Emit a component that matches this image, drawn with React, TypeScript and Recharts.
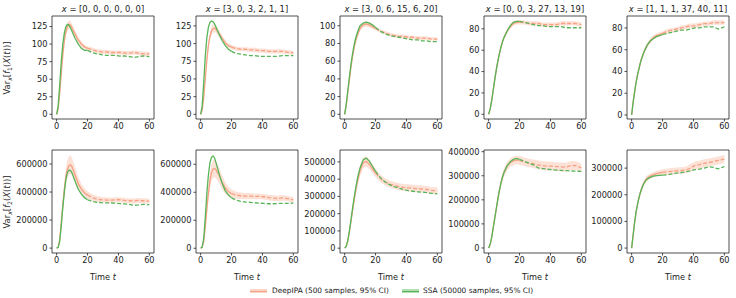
import { ComposedChart, Area, Line, XAxis, YAxis, ReferenceArea } from 'recharts';

// sample times (shared by every panel)
const TIMES = [0, 1, 2, 3, 4, 5, 6, 7, 8, 9, 10, 12, 14, 16, 18, 20, 23, 26, 29, 32, 35, 38, 41, 44, 47, 50, 53, 56, 60];
const SPLIT_T = 20; // solid up to here, dashed after

const TITLES = ['[0, 0, 0, 0, 0, 0]', '[3, 0, 3, 2, 1, 1]', '[3, 0, 6, 15, 6, 20]', '[0, 0, 3, 27, 13, 19]', '[1, 1, 1, 37, 40, 11]'];
const X_TICKS = [0, 20, 40, 60];

// Var[f1] — DeepIPA mean, CI half width, SSA mean
const DEEP_F1 = [
  [0, 8, 30, 58, 85, 105, 118, 125, 128, 127, 123, 114, 106, 100, 96, 94, 92, 90, 89, 89, 88, 88, 88, 87, 87, 88, 87, 86, 86],
  [0, 6, 24, 50, 76, 97, 110, 118, 121, 122, 120, 114, 107, 101, 97, 95, 93, 92, 92, 91, 91, 90, 90, 89, 89, 89, 89, 88, 87],
  [0, 10, 24, 38, 52, 64, 74, 82, 88, 93, 97, 101, 102, 101, 99, 97, 94, 92, 90, 89, 88, 88, 87, 87, 86, 86, 86, 85, 85],
  [0, 5, 13, 23, 33, 42, 50, 57, 63, 68, 72, 78, 82, 85, 86, 86, 86, 85, 85, 85, 84, 84, 84, 84, 85, 85, 85, 85, 84],
  [0, 12, 22, 31, 38, 44, 50, 54, 58, 61, 64, 68, 71, 73, 74, 75, 77, 78, 79, 80, 81, 82, 82, 83, 84, 84, 85, 85, 85],
];
const DEEP_F1_CI = [
  [0, 1, 2, 3, 4, 5, 5, 6, 6, 6, 5, 5, 4, 4, 3, 3, 3, 3, 3, 3, 3, 3, 3, 3, 3, 3, 3, 3, 3],
  [0, 1, 2, 3, 4, 5, 5, 6, 6, 6, 5, 5, 4, 4, 3, 3, 3, 3, 3, 3, 3, 3, 3, 3, 3, 3, 3, 3, 3],
  [0, 1, 1, 2, 2, 2, 3, 3, 3, 3, 3, 3, 3, 3, 3, 2, 2, 2, 2, 2, 2, 2, 2, 2, 2, 2, 2, 2, 2],
  [0, 1, 1, 1, 1, 2, 2, 2, 2, 2, 2, 2, 2, 2, 2, 2, 2, 2, 2, 2, 2, 2, 2, 2, 2, 2, 2, 2, 2],
  [0, 1, 1, 1, 1, 2, 2, 2, 2, 2, 2, 2, 2, 2, 2, 2, 2, 2, 2, 2, 2, 2, 2, 2, 2, 2, 2, 2, 2],
];
const SSA_F1 = [
  [0, 12, 42, 75, 100, 116, 125, 128, 127, 123, 118, 108, 100, 94, 91, 91, 88, 86, 85, 84, 84, 84, 83, 83, 82, 81, 82, 83, 82],
  [0, 12, 45, 82, 108, 123, 130, 132, 131, 128, 123, 113, 104, 97, 92, 89, 86, 85, 84, 83, 83, 82, 82, 82, 82, 82, 83, 83, 83],
  [0, 11, 26, 41, 55, 67, 77, 85, 91, 96, 100, 103, 104, 103, 101, 98, 94, 91, 89, 88, 87, 86, 85, 84, 84, 83, 83, 82, 82],
  [0, 5, 13, 23, 33, 42, 50, 57, 63, 68, 72, 78, 83, 86, 87, 87, 86, 85, 84, 83, 83, 82, 82, 82, 82, 81, 81, 81, 81],
  [0, 12, 22, 31, 38, 44, 50, 54, 58, 61, 64, 68, 70, 72, 73, 74, 75, 76, 77, 78, 78, 79, 80, 80, 81, 81, 81, 79, 81],
];
const F1_DOMAINS = [[-6.7, 140], [-6.6, 139], [-5.3, 111], [-4.4, 92], [-3.7, 91]];
const F1_TICKS = [
  [0, 25, 50, 75, 100, 125],
  [0, 25, 50, 75, 100, 125],
  [0, 20, 40, 60, 80, 100],
  [0, 20, 40, 60, 80],
  [0, 20, 40, 60, 80],
];

// Var[f2]
const DEEP_F2 = [
  [0, 5e3, 60e3, 180e3, 310e3, 420e3, 510e3, 565e3, 590e3, 595e3, 580e3, 520e3, 460e3, 420e3, 395e3, 378e3, 360e3, 350e3, 345e3, 343e3, 342e3, 345e3, 345e3, 340e3, 338e3, 336e3, 340e3, 338e3, 335e3],
  [0, 8e3, 50e3, 150e3, 280e3, 390e3, 480e3, 540e3, 565e3, 570e3, 560e3, 520e3, 470e3, 430e3, 405e3, 390e3, 380e3, 375e3, 372e3, 372e3, 370e3, 370e3, 368e3, 362e3, 358e3, 355e3, 360e3, 355e3, 345e3],
  [0, 10e3, 40e3, 90e3, 150e3, 210e3, 270e3, 325e3, 375e3, 415e3, 450e3, 495e3, 503e3, 485e3, 460e3, 435e3, 405e3, 385e3, 372e3, 365e3, 357e3, 352e3, 350e3, 347e3, 345e3, 343e3, 340e3, 335e3, 332e3],
  [0, 15e3, 45e3, 85e3, 125e3, 165e3, 205e3, 240e3, 270e3, 295e3, 315e3, 340e3, 355e3, 362e3, 366e3, 364e3, 358e3, 353e3, 350e3, 345e3, 342e3, 340e3, 340e3, 338e3, 337e3, 336e3, 342e3, 343e3, 333e3],
  [0, 50e3, 100e3, 140e3, 170e3, 195e3, 215e3, 232e3, 245e3, 255e3, 262e3, 270e3, 275e3, 279e3, 282e3, 284e3, 286e3, 288e3, 290e3, 291e3, 293e3, 300e3, 310e3, 313e3, 318e3, 321e3, 325e3, 329e3, 334e3],
];
const DEEP_F2_CI = [
  [0, 2e3, 10e3, 25e3, 40e3, 50e3, 58e3, 63e3, 65e3, 65e3, 62e3, 55e3, 45e3, 38e3, 32e3, 28e3, 24e3, 22e3, 20e3, 20e3, 18e3, 18e3, 18e3, 18e3, 18e3, 18e3, 18e3, 18e3, 18e3],
  [0, 2e3, 10e3, 25e3, 40e3, 50e3, 58e3, 62e3, 63e3, 63e3, 60e3, 55e3, 48e3, 40e3, 34e3, 30e3, 26e3, 24e3, 22e3, 22e3, 20e3, 20e3, 20e3, 20e3, 20e3, 20e3, 20e3, 20e3, 20e3],
  [0, 2e3, 5e3, 10e3, 15e3, 20e3, 24e3, 27e3, 30e3, 32e3, 32e3, 32e3, 30e3, 28e3, 26e3, 24e3, 22e3, 20e3, 20e3, 20e3, 20e3, 20e3, 20e3, 20e3, 20e3, 20e3, 20e3, 20e3, 20e3],
  [0, 2e3, 5e3, 8e3, 10e3, 12e3, 14e3, 15e3, 16e3, 17e3, 18e3, 18e3, 18e3, 18e3, 18e3, 18e3, 18e3, 18e3, 18e3, 18e3, 18e3, 18e3, 18e3, 18e3, 18e3, 18e3, 18e3, 18e3, 18e3],
  [0, 3e3, 6e3, 8e3, 10e3, 10e3, 10e3, 10e3, 10e3, 10e3, 10e3, 10e3, 10e3, 10e3, 10e3, 12e3, 12e3, 12e3, 12e3, 12e3, 12e3, 15e3, 15e3, 15e3, 15e3, 15e3, 15e3, 15e3, 15e3],
];
const SSA_F2 = [
  [0, 5e3, 50e3, 160e3, 290e3, 400e3, 490e3, 540e3, 557e3, 553e3, 535e3, 475e3, 420e3, 385e3, 360e3, 345e3, 333e3, 327e3, 324e3, 322e3, 322e3, 321e3, 318e3, 315e3, 312e3, 305e3, 308e3, 312e3, 310e3],
  [0, 8e3, 70e3, 220e3, 390e3, 520e3, 610e3, 650e3, 660e3, 645e3, 610e3, 530e3, 460e3, 410e3, 380e3, 360e3, 343e3, 335e3, 330e3, 328e3, 325e3, 322e3, 320e3, 318e3, 318e3, 320e3, 320e3, 321e3, 322e3],
  [0, 10e3, 42e3, 95e3, 158e3, 222e3, 285e3, 340e3, 390e3, 432e3, 465e3, 512e3, 522e3, 505e3, 475e3, 445e3, 410e3, 385e3, 368e3, 357e3, 348e3, 340e3, 333e3, 330e3, 327e3, 325e3, 322e3, 318e3, 315e3],
  [0, 15e3, 45e3, 85e3, 125e3, 165e3, 205e3, 240e3, 270e3, 295e3, 315e3, 342e3, 358e3, 368e3, 372e3, 368e3, 360e3, 352e3, 345e3, 333e3, 330e3, 327e3, 325e3, 323e3, 322e3, 321e3, 320e3, 319e3, 318e3],
  [0, 50e3, 100e3, 140e3, 170e3, 195e3, 215e3, 230e3, 243e3, 252e3, 258e3, 265e3, 270e3, 272e3, 273e3, 274e3, 275e3, 278e3, 281e3, 283e3, 286e3, 290e3, 294e3, 296e3, 300e3, 305e3, 303e3, 297e3, 306e3],
];
const F2_DOMAINS = [[-35000, 700000], [-34000, 702000], [-28000, 569000], [-21000, 407000], [-18500, 368000]];
const F2_TICKS = [
  [0, 200000, 400000, 600000],
  [0, 200000, 400000, 600000],
  [0, 100000, 200000, 300000, 400000, 500000],
  [0, 100000, 200000, 300000, 400000],
  [0, 100000, 200000, 300000],
];

const PANEL_LEFT = [52, 196, 340, 484, 627];
const ROW_TOP = [16, 150];
const PLOT_W = 102;
const PLOT_H = 103;
const Y_AXIS_W = 48;

const PINK = '#f6a183';
const GREEN = '#58b458';
const INK = '#222';
const FONT = '"DejaVu Sans", sans-serif';

function Panel({ left, top, deep, hw, ssa, domain, ticks }: any) {
  const data = TIMES.map((t, i) => ({
    t,
    band: [deep[i] - hw[i], deep[i] + hw[i]],
    deepA: t <= SPLIT_T ? deep[i] : null,
    deepB: t >= SPLIT_T ? deep[i] : null,
    ssaA: t <= SPLIT_T ? ssa[i] : null,
    ssaB: t >= SPLIT_T ? ssa[i] : null,
  }));
  const tick = { fill: INK, fontSize: 8.2, fontFamily: FONT };
  return (
    <div style={{ position: 'absolute', left: left - Y_AXIS_W, top: top - 4 }}>
      <ComposedChart
        width={Y_AXIS_W + PLOT_W + 4}
        height={4 + PLOT_H + 17}
        data={data}
        margin={{ top: 4, right: 4, left: 0, bottom: 0 }}
      >
        <XAxis
          dataKey="t"
          type="number"
          domain={[-3, 63]}
          ticks={X_TICKS}
          interval={0}
          allowDataOverflow
          height={17}
          axisLine={false}
          tickSize={2.5}
          tickMargin={2}
          tickLine={{ stroke: INK, strokeWidth: 0.8 }}
          tick={tick}
        />
        <YAxis
          type="number"
          domain={domain}
          ticks={ticks}
          interval={0}
          allowDataOverflow
          width={Y_AXIS_W}
          axisLine={false}
          tickSize={2.5}
          tickMargin={2}
          tickLine={{ stroke: INK, strokeWidth: 0.8 }}
          tick={tick}
        />
        <Area dataKey="band" stroke="none" fill={PINK} fillOpacity={0.32} isAnimationActive={false} activeDot={false} />
        <Line dataKey="deepA" stroke={PINK} strokeWidth={1.3} dot={false} activeDot={false} isAnimationActive={false} />
        <Line dataKey="deepB" stroke={PINK} strokeWidth={1.3} strokeDasharray="4 2" dot={false} activeDot={false} isAnimationActive={false} />
        <Line dataKey="ssaA" stroke={GREEN} strokeWidth={1.3} dot={false} activeDot={false} isAnimationActive={false} />
        <Line dataKey="ssaB" stroke={GREEN} strokeWidth={1.3} strokeDasharray="4 2" dot={false} activeDot={false} isAnimationActive={false} />
        <ReferenceArea x1={-3} x2={63} y1={domain[0]} y2={domain[1]} fill="none" stroke={INK} strokeWidth={0.8} ifOverflow="visible" />
      </ComposedChart>
    </div>
  );
}

const Sub = ({ children }: any) => (
  <span style={{ fontSize: 6.2, position: 'relative', top: 2 }}>{children}</span>
);

function YLabel({ n, cy }: { n: number; cy: number }) {
  return (
    <div
      style={{
        position: 'absolute',
        left: 7,
        top: cy,
        transform: 'translate(-50%, -50%) rotate(-90deg)',
        whiteSpace: 'nowrap',
        fontSize: 8.4,
        lineHeight: '10px',
      }}
    >
      Var<Sub><i>x</i></Sub>[<i>f</i><Sub>{n}</Sub>(<i>X</i>(<i>t</i>))]
    </div>
  );
}

function Swatch({ left, color }: { left: number; color: string }) {
  return (
    <div style={{ position: 'absolute', left, top: 289.3, width: 17, height: 4 }}>
      <div style={{ position: 'absolute', inset: 0, background: color, opacity: 0.45 }} />
      <div style={{ position: 'absolute', left: 0, top: 1.3, width: 17, height: 1.4, background: color }} />
    </div>
  );
}

export default function App() {
  return (
    <div
      style={{
        position: 'absolute',
        left: 0,
        top: 0,
        width: 736,
        height: 298,
        background: '#fff',
        fontFamily: FONT,
        color: INK,
        overflow: 'hidden',
      }}
    >
      {TITLES.map((title, i) => (
        <div
          key={`title-${i}`}
          style={{ position: 'absolute', left: PANEL_LEFT[i] - 10, top: 4, width: PLOT_W + 20, textAlign: 'center', fontSize: 8.4, lineHeight: '10px', whiteSpace: 'nowrap' }}
        >
          <i>x</i> = {title}
        </div>
      ))}

      {PANEL_LEFT.map((left, i) => (
        <Panel key={`f1-${i}`} left={left} top={ROW_TOP[0]} deep={DEEP_F1[i]} hw={DEEP_F1_CI[i]} ssa={SSA_F1[i]} domain={F1_DOMAINS[i]} ticks={F1_TICKS[i]} />
      ))}
      {PANEL_LEFT.map((left, i) => (
        <Panel key={`f2-${i}`} left={left} top={ROW_TOP[1]} deep={DEEP_F2[i]} hw={DEEP_F2_CI[i]} ssa={SSA_F2[i]} domain={F2_DOMAINS[i]} ticks={F2_TICKS[i]} />
      ))}

      <YLabel n={1} cy={ROW_TOP[0] + PLOT_H / 2} />
      <YLabel n={2} cy={ROW_TOP[1] + PLOT_H / 2} />

      {PANEL_LEFT.map((left, i) => (
        <div
          key={`xl-${i}`}
          style={{ position: 'absolute', left, top: 272, width: PLOT_W, textAlign: 'center', fontSize: 8.2, lineHeight: '10px' }}
        >
          Time <i>t</i>
        </div>
      ))}

      {/* Legend */}
      <Swatch left={250} color={PINK} />
      <div style={{ position: 'absolute', left: 272, top: 286.3, fontSize: 7.4, lineHeight: '10px', whiteSpace: 'nowrap' }}>
        DeepIPA (500 samples, 95% CI)
      </div>
      <Swatch left={402} color={GREEN} />
      <div style={{ position: 'absolute', left: 423, top: 286.3, fontSize: 7.4, lineHeight: '10px', whiteSpace: 'nowrap' }}>
        SSA (50000 samples, 95% CI)
      </div>
    </div>
  );
}
